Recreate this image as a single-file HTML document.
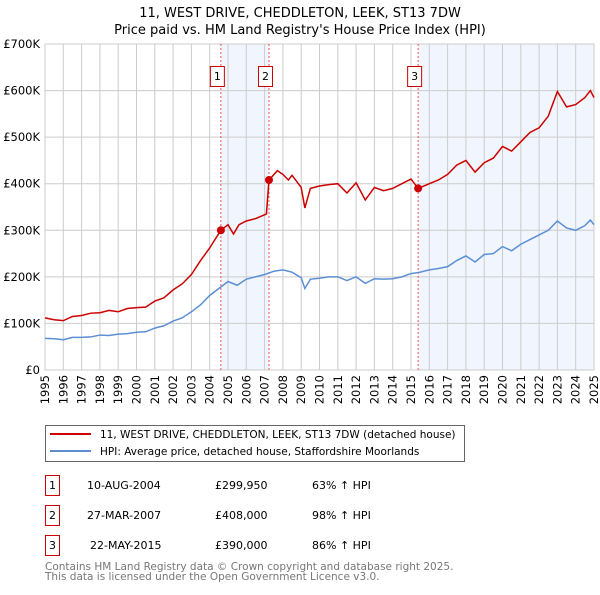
<!DOCTYPE html>
<html><head><meta charset="utf-8"><style>
body{margin:0;background:#fff;font-family:"Liberation Sans","DejaVu Sans",sans-serif;}
svg text{font-family:"DejaVu Sans","Liberation Sans",sans-serif;}
</style></head><body>
<svg id="c" width="600" height="590" xmlns="http://www.w3.org/2000/svg">
<text x="300" y="17" text-anchor="middle" font-size="13">11, WEST DRIVE, CHEDDLETON, LEEK, ST13 7DW</text>
<text x="300" y="34" text-anchor="middle" font-size="13">Price paid vs. HM Land Registry's House Price Index (HPI)</text>
<g id="plot"></g>
<g>
<rect x="45.5" y="425.5" width="419" height="36" fill="#fff" stroke="#666"/>
<line x1="50" y1="434" x2="91" y2="434" stroke="#cc0000" stroke-width="2"/>
<text x="100" y="438" font-size="10.5">11, WEST DRIVE, CHEDDLETON, LEEK, ST13 7DW (detached house)</text>
<line x1="50" y1="451" x2="91" y2="451" stroke="#5b8fd4" stroke-width="2"/>
<text x="100" y="455" font-size="10.5">HPI: Average price, detached house, Staffordshire Moorlands</text>
</g>
<g font-size="11">
<rect x="45.5" y="475.5" width="14" height="20" fill="#fff" stroke="#cc0000"/><text x="52.5" y="489" text-anchor="middle">1</text>
<text x="87" y="489">10-AUG-2004</text><text x="215" y="489">£299,950</text><text x="312" y="489">63% ↑ HPI</text>
<rect x="45.5" y="505.5" width="14" height="20" fill="#fff" stroke="#cc0000"/><text x="52.5" y="519" text-anchor="middle">2</text>
<text x="87" y="519">27-MAR-2007</text><text x="215" y="519">£408,000</text><text x="312" y="519">98% ↑ HPI</text>
<rect x="45.5" y="535.5" width="14" height="20" fill="#fff" stroke="#cc0000"/><text x="52.5" y="549" text-anchor="middle">3</text>
<text x="90" y="549">22-MAY-2015</text><text x="215" y="549">£390,000</text><text x="312" y="549">86% ↑ HPI</text>
</g>
<text x="45" y="570" font-size="10.5" fill="#777">Contains HM Land Registry data © Crown copyright and database right 2025.</text>
<text x="45" y="580" font-size="10.5" fill="#777">This data is licensed under the Open Government Licence v3.0.</text>
</svg>
<script>
const hpiYears=[1995,1995.5,1996,1996.5,1997,1997.5,1998,1998.5,1999,1999.5,2000,2000.5,2001,2001.5,2002,2002.5,2003,2003.5,2004,2004.5,2005,2005.5,2006,2006.5,2007,2007.5,2008,2008.5,2009,2009.2,2009.5,2010,2010.5,2011,2011.5,2012,2012.5,2013,2013.5,2014,2014.5,2015,2015.5,2016,2016.5,2017,2017.5,2018,2018.5,2019,2019.5,2020,2020.5,2021,2021.5,2022,2022.5,2023,2023.5,2024,2024.5,2024.8,2025];
const hpiValues=[68,67,65,70,70,71,75,74,77,78,81,82,90,95,105,112,125,140,160,175,190,182,195,200,205,212,215,210,198,175,195,197,200,200,192,200,186,196,195,196,200,207,210,215,218,222,235,245,232,248,250,265,256,270,280,290,300,320,305,300,310,322,312];
const priceYears=[1995,1995.5,1996,1996.5,1997,1997.5,1998,1998.5,1999,1999.5,2000,2000.5,2001,2001.5,2002,2002.5,2003,2003.5,2004,2004.61,2005,2005.3,2005.6,2006,2006.5,2007.1,2007.24,2007.7,2008,2008.3,2008.5,2009,2009.2,2009.5,2010,2010.5,2011,2011.5,2012,2012.5,2013,2013.5,2014,2014.5,2015,2015.39,2015.7,2016,2016.5,2017,2017.5,2018,2018.5,2019,2019.5,2020,2020.5,2021,2021.5,2022,2022.5,2023,2023.5,2024,2024.5,2024.8,2025];
const priceValues=[112,108,106,115,117,122,123,128,125,132,134,135,148,155,172,185,205,235,262,300,312,292,312,320,325,335,408,428,420,408,418,392,348,390,395,398,400,380,402,365,392,385,390,400,410,390,395,400,408,420,440,450,425,445,455,480,470,490,510,520,545,598,565,570,585,600,585];
const saleLabels=["1","2","3"];
const saleYears=[2004.61,2007.24,2015.39];
const salePrices=[299.95,408,390];
const yTicks=[0,100,200,300,400,500,600,700];
const yTickLabels=["£0","£100K","£200K","£300K","£400K","£500K","£600K","£700K"];
const xTicks=[1995,1996,1997,1998,1999,2000,2001,2002,2003,2004,2005,2006,2007,2008,2009,2010,2011,2012,2013,2014,2015,2016,2017,2018,2019,2020,2021,2022,2023,2024,2025];

const X0=45,X1=594,Y0=370,Y1=44;
const xs=y=>X0+(y-1995)/30*(X1-X0);
const ys=v=>Y0-v/700*(Y0-Y1);
const NS="http://www.w3.org/2000/svg";
const g=document.getElementById('plot');
function mk(t,a){const e=document.createElementNS(NS,t);for(const k in a)e.setAttribute(k,a[k]);g.appendChild(e);return e;}

let e=mk('rect',{x:xs(saleYears[0]),y:Y1,width:xs(saleYears[1])-xs(saleYears[0]),height:Y0-Y1,fill:'#eef3fc',opacity:0.8});


e=mk('rect',{x:xs(saleYears[2]),y:Y1,width:X1-xs(saleYears[2]),height:Y0-Y1,fill:'#eef3fc',opacity:0.8});



xTicks.forEach(t=>{
  const x=xs(t);
  e=mk('line',{x1:x,y1:Y1,x2:x,y2:Y0,stroke:'#ccc','stroke-width':1});
  
  
  e=mk('text',{x:0,y:0,'font-size':11.5,'text-anchor':'end',transform:`translate(${x+4},${Y0+5}) rotate(-90)`});
  e.textContent=t;
  
  
});
yTicks.forEach((t,i)=>{
  const y=ys(t);
  e=mk('line',{x1:X0,y1:y,x2:X1,y2:y,stroke:'#ccc','stroke-width':1});
  
  
  e=mk('text',{x:X0-5,y:y+4,'font-size':11.5,'text-anchor':'end'});
  e.textContent=yTickLabels[i];
  
  
});
e=mk('rect',{x:X0,y:Y1,width:X1-X0,height:Y0-Y1,fill:'none',stroke:'#ccc'});



saleYears.forEach((s,i)=>{
  const x=xs(s);
  e=mk('line',{x1:x,y1:Y1,x2:x,y2:Y0,stroke:'#ee5555','stroke-width':1,'stroke-dasharray':'2,2'});
  
  
  e=mk('rect',{x:x-10.5,y:66.5,width:14,height:20,fill:'#fff',stroke:'#cc0000'});
  
  
  e=mk('text',{x:x-3.5,y:80,'font-size':11,'text-anchor':'middle'});
  e.textContent=saleLabels[i];
  
  
});

e=mk('polyline',{points:hpiYears.map((y,i)=>xs(y)+','+ys(hpiValues[i])).join(' '),fill:'none',stroke:'#5b8fd4','stroke-width':1.5});


e=mk('polyline',{points:priceYears.map((y,i)=>xs(y)+','+ys(priceValues[i])).join(' '),fill:'none',stroke:'#cc0000','stroke-width':1.5});


saleYears.forEach((s,i)=>{
  e=mk('circle',{cx:xs(s),cy:ys(salePrices[i]),r:4,fill:'#cc0000'});
  
  
});
</script>
</body></html>
